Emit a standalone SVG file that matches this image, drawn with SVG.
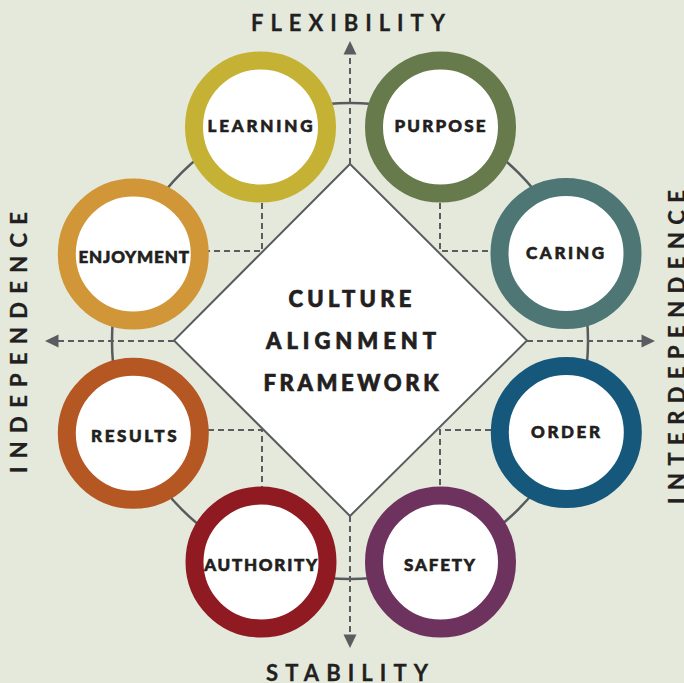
<svg xmlns="http://www.w3.org/2000/svg" width="684" height="683" viewBox="0 0 684 683">
<style>
.bg{fill:#e4e9dc}
.orbit{fill:none;stroke:#585b5d;stroke-width:2.5}
.dash{fill:none;stroke:#5a5d5f;stroke-width:2;stroke-dasharray:6 4}
.head{fill:#5a5d5f}
.diamond{fill:#ffffff;stroke:#5a5d5f;stroke-width:2}
.ring{fill:#ffffff;stroke-width:18}
.lbl{font-family:Lato,"Open Sans","DejaVu Sans",sans-serif;font-weight:900;font-size:17px;fill:#231f20;stroke:#231f20;stroke-width:0.6;text-anchor:middle}
.ttl{font-family:Lato,"Open Sans","DejaVu Sans",sans-serif;font-weight:900;font-size:22px;fill:#231f20;stroke:#231f20;stroke-width:0.7;text-anchor:middle}
.axis{font-family:Lato,"Open Sans","DejaVu Sans",sans-serif;font-weight:700;font-size:22px;fill:#231f20;stroke:#231f20;stroke-width:0.3;text-anchor:middle}
</style>
<rect class="bg" x="0" y="0" width="684" height="683"/>
<circle class="orbit" cx="350" cy="341" r="238"/>
<g id="connectors">
<line class="dash" x1="350" y1="164" x2="350" y2="54"/>
<polygon class="head" points="350,41 343.5,54.5 356.5,54.5"/>
<line class="dash" x1="350" y1="516" x2="350" y2="635"/>
<polygon class="head" points="350,648 343.5,634.5 356.5,634.5"/>
<line class="dash" x1="174" y1="341" x2="58" y2="341"/>
<polygon class="head" points="45,341 58.5,334.5 58.5,347.5"/>
<line class="dash" x1="527" y1="341" x2="642" y2="341"/>
<polygon class="head" points="655,341 641.5,334.5 641.5,347.5"/>
<polyline class="dash" points="262,203 262,251 208,251"/>
<polyline class="dash" points="440,203 440,251 491,251"/>
<polyline class="dash" points="208,430 262,430 262,487"/>
<polyline class="dash" points="491,430 440,430 440,487"/>
</g>
<g id="center">
<polygon class="diamond" points="350,164 527,340.5 350,516 174,340.5"/>
<text class="ttl" x="350" y="307" textLength="123" lengthAdjust="spacing">CULTURE</text>
<text class="ttl" x="351" y="349.3" textLength="170" lengthAdjust="spacing">ALIGNMENT</text>
<text class="ttl" x="351" y="390.7" textLength="175" lengthAdjust="spacing">FRAMEWORK</text>
</g>
<g id="learning">
<circle class="ring" cx="260.5" cy="127" r="66.5" stroke="#c5b134"/>
<text class="lbl" x="260" y="131.7" textLength="105" lengthAdjust="spacing">LEARNING</text>
</g>
<g id="purpose">
<circle class="ring" cx="440.5" cy="127" r="66.5" stroke="#667a4b"/>
<text class="lbl" x="440" y="131.7" textLength="91" lengthAdjust="spacing">PURPOSE</text>
</g>
<g id="caring">
<circle class="ring" cx="566" cy="253.5" r="66.5" stroke="#4d7675"/>
<text class="lbl" x="565" y="259.3" textLength="78" lengthAdjust="spacing">CARING</text>
</g>
<g id="order">
<circle class="ring" cx="566.3" cy="432.5" r="66.5" stroke="#16587b"/>
<text class="lbl" x="565.5" y="437.7" textLength="69" lengthAdjust="spacing">ORDER</text>
</g>
<g id="safety">
<circle class="ring" cx="440.5" cy="562" r="66.5" stroke="#6e325e"/>
<text class="lbl" x="439.5" y="570.7" textLength="71" lengthAdjust="spacing">SAFETY</text>
</g>
<g id="authority">
<circle class="ring" cx="261" cy="562" r="66.5" stroke="#901a22"/>
<text class="lbl" x="260.7" y="570.7" textLength="113" lengthAdjust="spacing">AUTHORITY</text>
</g>
<g id="results">
<circle class="ring" cx="133.3" cy="433.3" r="66.5" stroke="#b45722"/>
<text class="lbl" x="133.8" y="441.7" textLength="85.5" lengthAdjust="spacing">RESULTS</text>
</g>
<g id="enjoyment">
<circle class="ring" cx="133.3" cy="254" r="66.5" stroke="#d09637"/>
<text class="lbl" x="133.7" y="262.7" textLength="110.5" lengthAdjust="spacing">ENJOYMENT</text>
</g>
<g id="axis-labels">
<text class="axis" x="348" y="30.7" textLength="194" lengthAdjust="spacing">FLEXIBILITY</text>
<text class="axis" x="347" y="680.5" textLength="162" lengthAdjust="spacing">STABILITY</text>
<text class="axis" transform="translate(27,342.5) rotate(-90)" x="0" y="0" textLength="261" lengthAdjust="spacing">INDEPENDENCE</text>
<text class="axis" transform="translate(685,347) rotate(-90)" x="0" y="0" textLength="314" lengthAdjust="spacing">INTERDEPENDENCE</text>
</g>
</svg>
